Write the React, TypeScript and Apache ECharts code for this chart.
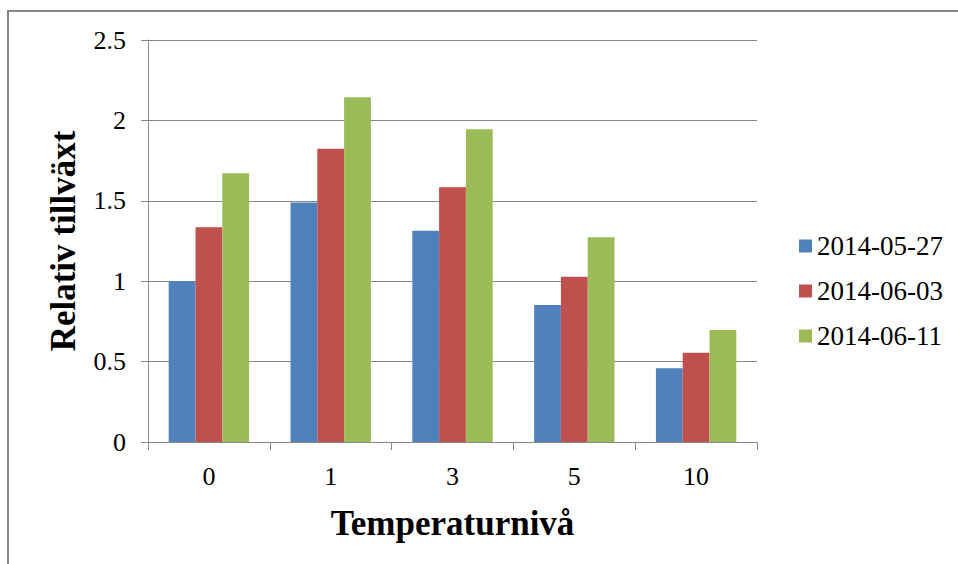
import React, { useEffect, useRef } from "react";
import * as echarts from "echarts";

// Temperature levels on the category axis
const categories = ["0", "1", "3", "5", "10"];

// Relative growth per measurement date
const seriesNames = ["2014-05-27", "2014-06-03", "2014-06-11"];
const growth0527 = [1.0, 1.49, 1.314, 0.852, 0.458];
const growth0603 = [1.335, 1.824, 1.584, 1.028, 0.555];
const growth0611 = [1.671, 2.144, 1.945, 1.273, 0.697];

const seriesColors = ["#4F81BD", "#C0504D", "#9BBB59"];

const FONT = "Liberation Serif";
const GRAY = "#888888";

export default function App() {
  const ref = useRef<HTMLDivElement>(null);

  useEffect(() => {
    if (!ref.current) return;
    const chart = echarts.init(ref.current, undefined, { renderer: "svg" });
    const values = [growth0527, growth0603, growth0611];

    chart.setOption({
      animation: false,
      backgroundColor: "#ffffff",
      textStyle: { fontFamily: FONT },
      graphic: [
        {
          type: "rect",
          shape: { x: 8, y: 11, width: 1000, height: 600 },
          style: { fill: "none", stroke: "#878787", lineWidth: 2 },
          silent: true,
        },
      ],
      grid: { left: 148, right: 201, top: 40, bottom: 122 },
      legend: {
        orient: "vertical",
        left: 799,
        top: 231,
        padding: 0,
        itemWidth: 13,
        itemHeight: 13,
        itemGap: 15,
        icon: "rect",
        data: seriesNames,
        textStyle: {
          fontFamily: FONT,
          fontSize: 27,
          color: "#000",
          lineHeight: 30,
        },
      },
      xAxis: {
        type: "category",
        data: categories,
        boundaryGap: true,
        name: "Temperaturnivå",
        nameLocation: "middle",
        nameGap: 64,
        nameTextStyle: {
          fontFamily: FONT,
          fontSize: 35,
          fontWeight: "bold",
          color: "#000",
        },
        axisLine: { lineStyle: { color: GRAY, width: 1 } },
        axisTick: { show: true, length: 8, lineStyle: { color: GRAY } },
        axisLabel: {
          fontFamily: FONT,
          fontSize: 26,
          color: "#000",
          margin: 21,
        },
      },
      yAxis: {
        type: "value",
        min: 0,
        max: 2.5,
        interval: 0.5,
        name: "Relativ tillväxt",
        nameLocation: "middle",
        nameGap: 67,
        nameRotate: 90,
        nameTextStyle: {
          fontFamily: FONT,
          fontSize: 35,
          fontWeight: "bold",
          color: "#000",
        },
        axisLine: { show: true, lineStyle: { color: GRAY, width: 1 } },
        axisTick: { show: true, length: 7, lineStyle: { color: GRAY } },
        splitLine: { show: true, lineStyle: { color: GRAY, width: 1 } },
        axisLabel: {
          fontFamily: FONT,
          fontSize: 26,
          color: "#000",
          margin: 22,
        },
      },
      series: seriesNames.map((name, i) => ({
        name,
        type: "bar",
        data: values[i],
        barGap: "0%",
        barCategoryGap: "34%",
        itemStyle: { color: seriesColors[i] },
      })),
    });

    return () => chart.dispose();
  }, []);

  return (
    <div
      ref={ref}
      style={{ position: "fixed", left: 0, top: 0, width: 958, height: 564 }}
    />
  );
}
